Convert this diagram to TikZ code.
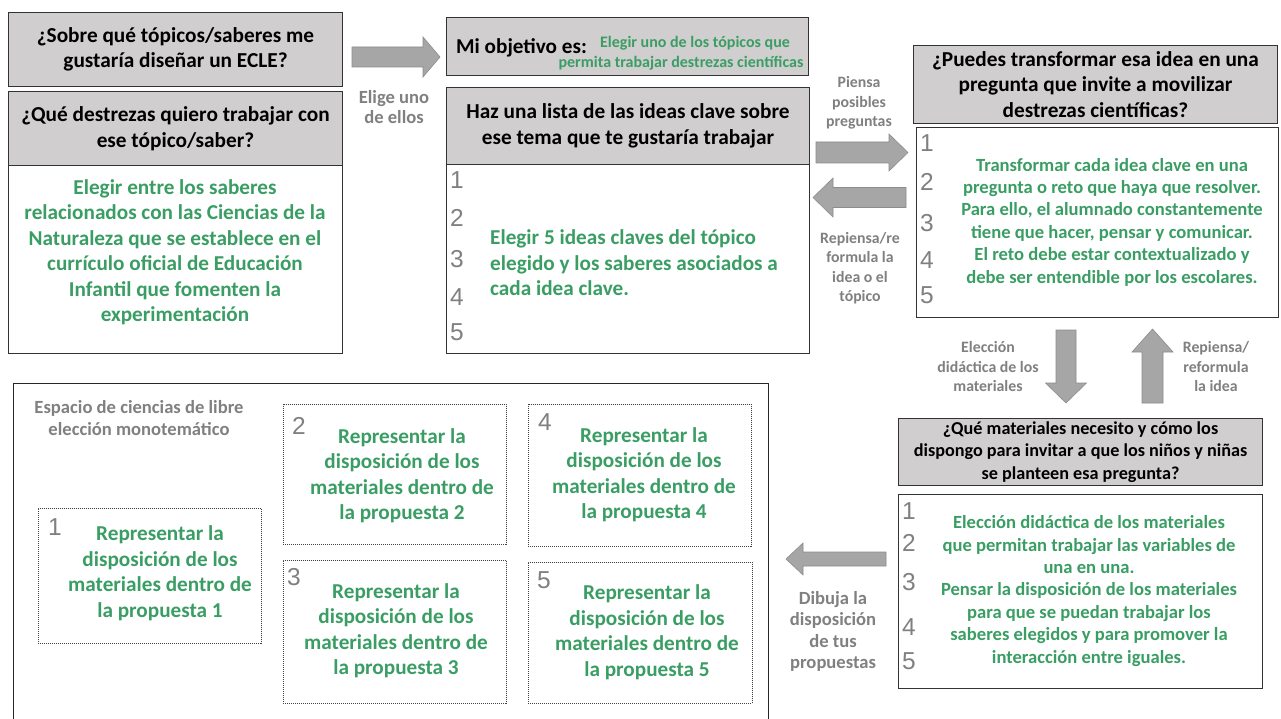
\documentclass[tikz,border=0pt]{standalone}
\usepackage{fontspec}
\setmainfont{Carlito}
\newfontfamily\numfamily{Liberation Sans}
\definecolor{tgreen}{RGB}{58,158,100}
\definecolor{tgray}{RGB}{128,128,128}
\definecolor{boxgray}{RGB}{208,206,206}
\definecolor{arrfill}{RGB}{166,166,166}
\definecolor{arrdraw}{RGB}{140,140,140}
\newcommand\hdfont{\fontsize{21.3}{25.5}\selectfont\bfseries}
\newcommand\hdsmall{\fontsize{18.2}{22.5}\selectfont\bfseries}
\newcommand\grfont{\fontsize{21.2}{25.5}\selectfont\bfseries}
\newcommand\grsmall{\fontsize{18.6}{22.4}\selectfont\bfseries}
\newcommand\numfnt{\numfamily\fontsize{24.5}{26}\selectfont}
\begin{document}
\begin{tikzpicture}[x=1pt,y=-1pt,
  gbox/.style={draw=black!80, line width=1pt, fill=boxgray, anchor=north west, inner sep=0pt, align=center, font=\hdfont},
  wbox/.style={draw=black!80, line width=1pt, fill=white, anchor=north west, inner sep=0pt},
  dbox/.style={draw=black!75, line width=0.8pt, dash pattern=on 1pt off 1pt, anchor=north west, inner sep=0pt},
  gtext/.style={text=tgreen, align=center, inner sep=0pt, font=\grfont},
  gtexts/.style={text=tgreen, align=center, inner sep=0pt, font=\grsmall},
  lbl/.style={text=tgray, align=center, inner sep=0pt, font=\fontsize{15.8}{19.5}\selectfont\bfseries},
  lblb/.style={text=tgray, align=center, inner sep=0pt, font=\fontsize{18.6}{21.5}\selectfont\bfseries},
  num/.style={text=tgray, anchor=west, inner sep=0pt, font=\numfnt},
  barrow/.style={fill=arrfill, draw=arrdraw, line width=0.6pt, line join=miter}
]
\useasboundingbox (0,0) rectangle (1281,719);
\fill[white] (0,0) rectangle (1281,719);

% ---------- top left ----------
\node[wbox, minimum width=334, minimum height=188] (a1) at (8,165) {};
\node[gbox, minimum width=334, minimum height=74] (q1) at (8,12) {¿Sobre qué tópicos/saberes me\\gustaría diseñar un ECLE?};
\node[gbox, minimum width=334, minimum height=74] (q2) at (8,91) {¿Qué destrezas quiero trabajar con\\ese tópico/saber?};
\node[gtext] (a1t) at (175,252) {Elegir entre los saberes\\relacionados con las Ciencias de la\\Naturaleza que se establece en el\\currículo oficial de Educación\\Infantil que fomenten la\\experimentación};

% arrow 1
\draw[barrow] (352,47) -- (423,47) -- (423,37) -- (440,57) -- (423,77) -- (423,67) -- (352,67) -- cycle;
\node[lblb, font=\fontsize{18.6}{20.5}\selectfont\bfseries] (l1) at (394,107) {Elige uno\\de ellos};

% ---------- top middle ----------
\node[gbox, minimum width=362, minimum height=58] (mo) at (446,17) {};
\node[anchor=west, inner sep=0pt, font=\fontsize{21.2}{23}\selectfont\bfseries] (mol) at (456,48) {Mi objetivo es:};
\node[text=tgreen, inner sep=0pt, font=\fontsize{16}{19}\selectfont\bfseries] (mog1) at (695,43) {Elegir uno de los tópicos que};
\node[text=tgreen, inner sep=0pt, font=\fontsize{16}{19}\selectfont\bfseries] (mog2) at (681,63) {permita trabajar destrezas científicas};

\node[wbox, minimum width=363, minimum height=189] (hb) at (446,164) {};
\node[gbox, minimum width=363, minimum height=77] (hz) at (446,87) {Haz una lista de las ideas clave sobre\\ese tema que te gustaría trabajar};
\foreach \n/\y in {1/180,2/218,3/259,4/297,5/332} {
  \node[num] (hn\n) at (450,\y) {\n};
}
\node[gtext, align=left, anchor=west] (hbt) at (490,263) {Elegir 5 ideas claves del tópico\\elegido y los saberes asociados a\\cada idea clave.};

% arrows between middle and right
\draw[barrow] (816,142) -- (889,142) -- (889,134) -- (908,152.5) -- (889,171) -- (889,163) -- (816,163) -- cycle;
\node[lbl] (l2) at (859,103) {Piensa\\posibles\\preguntas};
\draw[barrow] (906,187.5) -- (833,187.5) -- (833,178) -- (813,197.5) -- (833,217) -- (833,207.5) -- (906,207.5) -- cycle;
\node[lbl] (l3) at (860,268) {Repiensa/re\\formula la\\idea o el\\tópico};

% ---------- top right ----------
\node[wbox, minimum width=362, minimum height=190] (pb) at (916,127) {};
\node[gbox, minimum width=364, minimum height=78] (pu) at (913,45) {¿Puedes transformar esa idea en una\\pregunta que invite a movilizar\\destrezas científicas?};
\foreach \n/\y in {1/143,2/182,3/223,4/260,5/295} {
  \node[num] (pn\n) at (920,\y) {\n};
}
\node[gtexts] (pbt) at (1112,222) {Transformar cada idea clave en una\\pregunta o reto que haya que resolver.\\Para ello, el alumnado constantemente\\tiene que hacer, pensar y comunicar.\\El reto debe estar contextualizado y\\debe ser entendible por los escolares.};

% vertical arrows
\draw[barrow] (1056,330) -- (1056,383) -- (1045.5,383) -- (1066,403) -- (1086.5,383) -- (1076,383) -- (1076,330) -- cycle;
\node[lbl] (l4) at (988,367) {Elección\\didáctica de los\\materiales};
\draw[barrow] (1142,403) -- (1142,352) -- (1132,352) -- (1152.5,329) -- (1173,352) -- (1163,352) -- (1163,403) -- cycle;
\node[lbl] (l5) at (1216,367) {Repiensa/\\reformula\\la idea};

% ---------- bottom right ----------
\node[gbox, minimum width=364, minimum height=67, font=\hdsmall] (qm) at (898,418) {¿Qué materiales necesito y cómo los\\dispongo para invitar a que los niños y niñas\\se planteen esa pregunta?};
\node[wbox, minimum width=364, minimum height=194] (mb) at (898,494) {};
\foreach \n/\y in {1/511,2/543,3/582,4/627,5/661} {
  \node[num] (mn\n) at (902,\y) {\n};
}
\node[gtexts] (mbt) at (1089,591) {Elección didáctica de los materiales\\que permitan trabajar las variables de\\una en una.\\Pensar la disposición de los materiales\\para que se puedan trabajar los\\saberes elegidos y para promover la\\interacción entre iguales.};

% arrow to bottom left
\draw[barrow] (886,552) -- (803,552) -- (803,543) -- (786,559) -- (803,575) -- (803,566) -- (886,566) -- cycle;
\node[lblb] (l6) at (833,631.5) {Dibuja la\\disposición\\de tus\\propuestas};

% ---------- bottom left ----------
\node[draw=black!85, line width=1.4pt, anchor=north west, inner sep=0pt, minimum width=755, minimum height=350] (esp) at (13,383) {};
\node[lbl, font=\fontsize{18.6}{22}\selectfont\bfseries] (espl) at (139,418) {Espacio de ciencias de libre\\elección monotemático};

\node[dbox, minimum width=223, minimum height=135] (d1) at (38,508) {};
\node[dbox, minimum width=223, minimum height=140] (d2) at (283,404) {};
\node[dbox, minimum width=223, minimum height=143] (d3) at (283,560) {};
\node[dbox, minimum width=223, minimum height=142] (d4) at (528,404) {};
\node[dbox, minimum width=224, minimum height=141] (d5) at (528,562) {};

\node[num] (dn1) at (48,527) {1};
\node[num] (dn2) at (292,426) {2};
\node[num] (dn3) at (287,577) {3};
\node[num] (dn4) at (538,422) {4};
\node[num] (dn5) at (537,580) {5};

\node[gtext] (dt1) at (160,573) {Representar la\\disposición de los\\materiales dentro de\\la propuesta 1};
\node[gtext] (dt2) at (402,475.5) {Representar la\\disposición de los\\materiales dentro de\\la propuesta 2};
\node[gtext] (dt3) at (396,630.5) {Representar la\\disposición de los\\materiales dentro de\\la propuesta 3};
\node[gtext] (dt4) at (644,474.5) {Representar la\\disposición de los\\materiales dentro de\\la propuesta 4};
\node[gtext] (dt5) at (647,632) {Representar la\\disposición de los\\materiales dentro de\\la propuesta 5};
\end{tikzpicture}
\end{document}
